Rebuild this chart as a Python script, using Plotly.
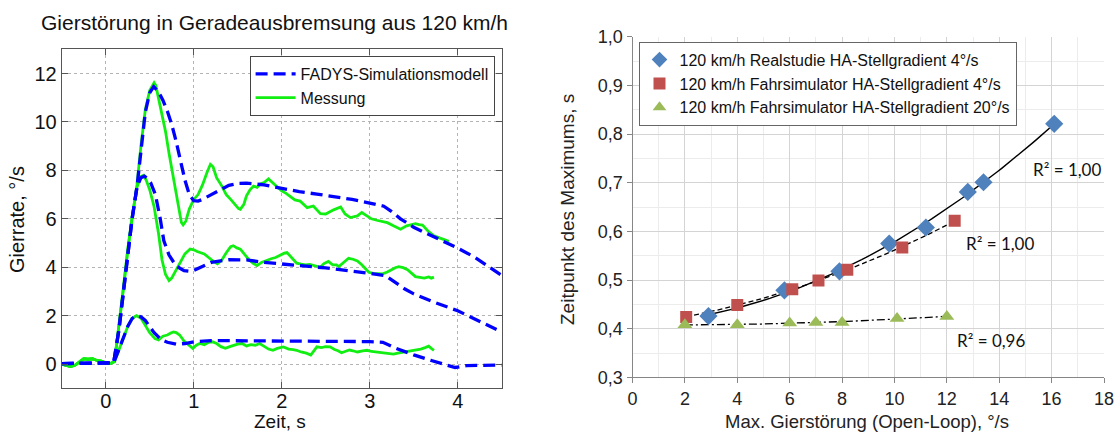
import numpy as np
import plotly.graph_objects as go

# ---------------- Left chart data ----------------
pre_t = [-0.5, -0.45, -0.4, -0.35, -0.3, -0.25, -0.2, -0.15, -0.1, -0.05, 0.0, 0.05, 0.1]
pre_y = [0.0, -0.05, -0.1, -0.05, 0.1, 0.22, 0.2, 0.22, 0.15, 0.12, 0.05, 0.02, 0.1]

sim_big_t = [-0.5, 0.0, 0.09, 0.15, 0.2, 0.25, 0.3, 0.355, 0.4, 0.45, 0.5, 0.545, 0.6, 0.65, 0.7,
             0.75, 0.8, 0.85, 0.9, 0.95, 1.0, 1.05, 1.1, 1.2, 1.3, 1.4, 1.5, 1.6, 1.8, 2.0, 2.2,
             2.4, 2.6, 2.8, 3.0, 3.1, 3.16, 3.25, 3.35, 3.5, 3.7, 4.0, 4.2, 4.5]
sim_big_y = [0.02, 0.02, 0.05, 1.4, 3.0, 4.6, 6.0, 7.3, 8.9, 10.4, 11.2, 11.46, 11.25, 10.9, 10.45,
             9.9, 9.2, 8.4, 7.6, 7.0, 6.75, 6.73, 6.8, 7.0, 7.2, 7.38, 7.46, 7.47, 7.4, 7.25, 7.12,
             7.02, 6.92, 6.8, 6.65, 6.58, 6.52, 6.3, 6.0, 5.65, 5.3, 4.79, 4.4, 3.66]

sim_mid_t = [-0.5, 0.0, 0.09, 0.15, 0.2, 0.25, 0.3, 0.355, 0.4, 0.44, 0.48, 0.51, 0.565, 0.62, 0.66,
             0.72, 0.8, 0.89, 0.96, 1.0, 1.1, 1.2, 1.4, 1.6, 1.8, 2.0, 2.2, 2.5, 2.8, 3.0, 3.18,
             3.3, 3.4, 3.5, 3.7, 4.0, 4.2, 4.5]
sim_mid_y = [0.02, 0.02, 0.05, 1.4, 3.0, 4.6, 6.0, 7.3, 7.7, 7.76, 7.65, 7.5, 7.0, 6.0, 5.1,
             4.5, 4.05, 3.86, 3.83, 3.87, 4.05, 4.2, 4.31, 4.3, 4.2, 4.12, 4.07, 3.97, 3.85, 3.75, 3.65,
             3.35, 3.1, 2.9, 2.6, 2.2, 1.85, 1.33]

sim_small_t = [-0.5, 0.0, 0.09, 0.15, 0.2, 0.25, 0.3, 0.35, 0.4, 0.45, 0.5, 0.55, 0.6, 0.65, 0.7,
               0.8, 0.9, 1.0, 1.2, 1.5, 2.0, 2.5, 3.0, 3.15, 3.3, 3.5, 3.7, 3.9, 3.97, 4.1, 4.5]
sim_small_y = [0.02, 0.02, 0.05, 0.6, 1.1, 1.55, 1.88, 2.0, 1.95, 1.8, 1.55, 1.3, 1.12, 0.98, 0.9,
               0.82, 0.85, 0.92, 0.97, 0.97, 0.95, 0.94, 0.93, 0.9, 0.65, 0.38, 0.15, -0.08, -0.14, -0.06, -0.04]

mes_big_t = [0.15, 0.2, 0.25, 0.3, 0.355, 0.4, 0.45, 0.5, 0.55, 0.57, 0.6, 0.64, 0.68, 0.72, 0.77,
             0.82, 0.86, 0.88, 0.91, 0.95, 1.0, 1.05, 1.1, 1.15, 1.19, 1.22, 1.26, 1.32, 1.37, 1.42,
             1.47, 1.51, 1.53, 1.57, 1.6, 1.64, 1.68, 1.72, 1.76, 1.8, 1.85, 1.88, 1.92, 1.96, 2.0,
             2.05, 2.1, 2.15, 2.21, 2.25, 2.29, 2.36, 2.4, 2.44, 2.5, 2.55, 2.59, 2.67, 2.72, 2.78,
             2.82, 2.86, 2.91, 2.97, 3.02, 3.08, 3.14, 3.2, 3.27, 3.31, 3.35, 3.42, 3.47, 3.52,
             3.56, 3.6, 3.67, 3.73, 3.8, 3.85, 3.9]
mes_big_y = [1.5, 3.1, 4.7, 6.1, 7.4, 9.0, 10.5, 11.3, 11.62, 11.5, 11.0, 10.3, 9.6, 8.7, 7.7,
             6.6, 5.85, 5.75, 5.9, 6.4, 6.8, 7.0, 7.4, 7.9, 8.25, 8.15, 7.7, 7.35, 7.0, 6.8,
             6.6, 6.42, 6.39, 6.6, 6.95, 7.2, 7.35, 7.3, 7.45, 7.5, 7.65, 7.55, 7.4, 7.3, 7.15,
             7.05, 6.9, 6.78, 6.73, 6.6, 6.46, 6.53, 6.35, 6.21, 6.2, 6.3, 6.37, 6.49, 6.2, 6.05,
             6.1, 6.12, 6.26, 6.1, 6.0, 5.94, 5.9, 5.84, 5.71, 5.65, 5.57, 5.71, 5.75, 5.8,
             5.76, 5.74, 5.47, 5.3, 5.2, 5.15, 5.07]

mes_mid_t = [0.15, 0.2, 0.25, 0.3, 0.355, 0.4, 0.43, 0.46, 0.5, 0.55, 0.6, 0.64, 0.68, 0.72, 0.75,
             0.8, 0.85, 0.9, 0.96, 1.0, 1.04, 1.07, 1.12, 1.17, 1.22, 1.27, 1.32, 1.37, 1.42, 1.45,
             1.49, 1.53, 1.58, 1.63, 1.68, 1.72, 1.77, 1.83, 1.88, 1.93, 1.98, 2.03, 2.06, 2.1,
             2.14, 2.17, 2.22, 2.27, 2.32, 2.36, 2.4, 2.44, 2.48, 2.53, 2.58, 2.62, 2.65, 2.7,
             2.76, 2.81, 2.86, 2.91, 2.95, 2.99, 3.04, 3.09, 3.14, 3.2, 3.25, 3.29, 3.33, 3.38,
             3.43, 3.48, 3.52, 3.57, 3.62, 3.67, 3.7, 3.73]
mes_mid_y = [1.5, 3.1, 4.7, 6.1, 7.3, 7.75, 7.8, 7.6, 7.2, 6.5, 5.4, 4.3, 3.7, 3.45, 3.55,
             3.9, 4.25, 4.55, 4.75, 4.72, 4.65, 4.6, 4.55, 4.4, 4.25, 4.14, 4.3, 4.6, 4.85, 4.89,
             4.8, 4.75, 4.5, 4.3, 4.15, 4.07, 4.2, 4.3, 4.35, 4.4, 4.5, 4.58, 4.61, 4.45,
             4.25, 4.17, 4.13, 4.1, 4.12, 4.07, 4.05, 4.0, 4.15, 4.24, 4.1, 4.1, 4.03, 4.2,
             4.37, 4.33, 4.26, 4.1, 3.95, 3.79, 3.75, 3.74, 3.72, 3.8, 3.9, 3.98, 4.02, 3.98,
             3.9, 3.72, 3.61, 3.58, 3.55, 3.6, 3.55, 3.59]

mes_small_t = [0.15, 0.2, 0.25, 0.3, 0.35, 0.4, 0.45, 0.5, 0.56, 0.6, 0.65, 0.7, 0.74, 0.77, 0.8,
               0.84, 0.89, 0.94, 0.99, 1.03, 1.07, 1.12, 1.17, 1.21, 1.26, 1.31, 1.36, 1.41, 1.46,
               1.5, 1.55, 1.6, 1.65, 1.7, 1.75, 1.8, 1.85, 1.9, 1.95, 2.02, 2.08, 2.13, 2.17, 2.22,
               2.28, 2.33, 2.37, 2.4, 2.45, 2.5, 2.55, 2.6, 2.64, 2.68, 2.72, 2.77, 2.81, 2.86,
               2.92, 2.97, 3.02, 3.07, 3.12, 3.17, 3.22, 3.27, 3.32, 3.37, 3.42, 3.47, 3.53, 3.58,
               3.63, 3.67, 3.7, 3.73]
mes_small_y = [0.6, 1.1, 1.55, 1.88, 2.0, 1.9, 1.6, 1.3, 1.05, 1.0, 1.15, 1.2, 1.28, 1.33, 1.3,
               1.2, 0.95, 0.78, 0.65, 0.78, 0.85, 0.8, 0.9, 0.92, 0.85, 0.72, 0.65, 0.72, 0.78,
               0.82, 0.85, 0.75, 0.8, 0.78, 0.85, 0.72, 0.62, 0.57, 0.65, 0.71, 0.62, 0.6, 0.57, 0.5,
               0.45, 0.37, 0.55, 0.71, 0.68, 0.72, 0.71, 0.6, 0.55, 0.47, 0.52, 0.58, 0.55, 0.5,
               0.55, 0.57, 0.52, 0.5, 0.47, 0.45, 0.43, 0.41, 0.45, 0.48, 0.51, 0.55, 0.57, 0.62,
               0.68, 0.74, 0.65, 0.57]

left_xticks = [0, 1, 2, 3, 4]
left_yticks = [0, 2, 4, 6, 8, 10, 12]

# ---------------- Right chart data ----------------
real_x = [2.9, 5.8, 7.9, 9.8, 11.2, 12.8, 13.4, 16.1]
real_y = [0.426, 0.479, 0.518, 0.575, 0.608, 0.681, 0.701, 0.821]
fs4_x = [2.05, 4.0, 6.1, 7.1, 8.2, 10.3, 12.3]
fs4_y = [0.424, 0.449, 0.481, 0.499, 0.521, 0.567, 0.622]
fs20_x = [2.0, 4.0, 6.0, 7.0, 8.0, 10.1, 12.0]
fs20_y = [0.408, 0.408, 0.412, 0.413, 0.413, 0.421, 0.425]

names_right = ["120 km/h Realstudie HA-Stellgradient 4°/s",
               "120 km/h Fahrsimulator HA-Stellgradient 4°/s",
               "120 km/h Fahrsimulator HA-Stellgradient 20°/s"]
r2_labels = ["R² = 1,00", "R² = 1,00", "R² = 0,96"]

FONT = "Liberation Sans, Arial, sans-serif"
BLUE = "#0000ff"
GREEN = "#11ee11"

fig = go.Figure()

# measurements first (below), then simulation
for mt, my, show in [(mes_big_t, mes_big_y, True), (mes_mid_t, mes_mid_y, False), (mes_small_t, mes_small_y, False)]:
    fig.add_trace(go.Scatter(x=pre_t + mt, y=pre_y + my, mode="lines", name="Messung",
                             line=dict(color=GREEN, width=2.8),
                             showlegend=show, legend="legend", xaxis="x", yaxis="y",
                             legendrank=2))
for st, sy, show in [(sim_big_t, sim_big_y, True), (sim_mid_t, sim_mid_y, False), (sim_small_t, sim_small_y, False)]:
    fig.add_trace(go.Scatter(x=st, y=sy, mode="lines", name="FADYS-Simulationsmodell",
                             line=dict(color=BLUE, width=3.3, dash="12px,6px"),
                             showlegend=show, legend="legend", xaxis="x", yaxis="y",
                             legendrank=1))

# right chart trendlines (least-squares polynomials of the plotted points)
def trend(xs, ys, deg=2):
    c = np.polyfit(xs, ys, deg)
    xx = np.linspace(min(xs), max(xs), 80)
    return xx, np.polyval(c, xx)

tx, ty = trend(real_x, real_y)
fig.add_trace(go.Scatter(x=tx, y=ty, mode="lines", line=dict(color="black", width=1.4),
                         showlegend=False, xaxis="x2", yaxis="y2"))
tx, ty = trend(fs4_x, fs4_y)
fig.add_trace(go.Scatter(x=tx, y=ty, mode="lines", line=dict(color="black", width=1.3, dash="5px,3px"),
                         showlegend=False, xaxis="x2", yaxis="y2"))
tx, ty = trend(fs20_x, fs20_y)
fig.add_trace(go.Scatter(x=tx, y=ty, mode="lines", line=dict(color="black", width=1.3, dash="8px,3px,2px,3px"),
                         showlegend=False, xaxis="x2", yaxis="y2"))

fig.add_trace(go.Scatter(x=real_x, y=real_y, mode="markers", name=names_right[0],
                         marker=dict(symbol="diamond", color="#4f81bd", size=14),
                         legend="legend2", xaxis="x2", yaxis="y2"))
fig.add_trace(go.Scatter(x=fs4_x, y=fs4_y, mode="markers", name=names_right[1],
                         marker=dict(symbol="square", color="#c0504d", size=12),
                         legend="legend2", xaxis="x2", yaxis="y2"))
fig.add_trace(go.Scatter(x=fs20_x, y=fs20_y, mode="markers", name=names_right[2],
                         marker=dict(symbol="triangle-up", color="#9bbb59", size=13),
                         legend="legend2", xaxis="x2", yaxis="y2"))

W, H = 1115, 435
def px_x(p): return p / W
def px_y(p): return 1 - p / H

fig.update_layout(
    width=W, height=H, margin=dict(l=0, r=0, t=0, b=0, autoexpand=False),
    paper_bgcolor="white", plot_bgcolor="white",
    font=dict(family=FONT, color="#111"),
    separators=",.",
    xaxis=dict(domain=[px_x(61.7), px_x(501.7)], range=[-0.5, 4.5], tickvals=left_xticks,
               showgrid=True, gridcolor="#b4b4b4", griddash="dot", gridwidth=1,
               zeroline=False, showline=True, linecolor="#555", linewidth=1, mirror="ticks",
               ticks="inside", ticklen=6, tickcolor="#555", automargin=False,
               ticklabelstandoff=-5,
               tickfont=dict(size=20, family=FONT, color="#111"), anchor="y"),
    yaxis=dict(domain=[px_y(388.3), px_y(49.3)], range=[-1, 13], tickvals=left_yticks,
               showgrid=True, gridcolor="#b4b4b4", griddash="dot", gridwidth=1,
               zeroline=False, showline=True, linecolor="#555", linewidth=1, mirror="ticks",
               ticks="inside", ticklen=6, tickcolor="#555", automargin=False,
               tickfont=dict(size=20, family=FONT, color="#111"), anchor="x"),
    xaxis2=dict(domain=[px_x(632.5), px_x(1104)], range=[0, 18], dtick=2, tick0=0,
                showgrid=True, gridcolor="#d4d4d4", gridwidth=1,
                minor=dict(dtick=1, showgrid=True, gridcolor="#ececec", gridwidth=1),
                zeroline=False, showline=True, linecolor="#868686", linewidth=1,
                ticks="outside", ticklen=5, tickcolor="#868686", automargin=False,
                ticklabeloverflow="allow",
                tickfont=dict(size=18, family=FONT, color="#222"), anchor="y2"),
    yaxis2=dict(domain=[px_y(377.4), px_y(36.7)], range=[0.3, 1.0], dtick=0.1, tick0=0,
                tickformat=".1f",
                showgrid=True, gridcolor="#d4d4d4", gridwidth=1,
                minor=dict(dtick=0.05, showgrid=True, gridcolor="#ececec", gridwidth=1),
                zeroline=False, showline=True, linecolor="#868686", linewidth=1,
                ticks="outside", ticklen=5, tickcolor="#868686", automargin=False,
                ticklabeloverflow="allow",
                tickfont=dict(size=18, family=FONT, color="#222"), anchor="x2"),
    legend=dict(x=px_x(494.6), xanchor="right", y=px_y(56), yanchor="top",
                bgcolor="white", bordercolor="#444", borderwidth=1,
                font=dict(size=16, family=FONT, color="#111"),
                tracegroupgap=0, itemwidth=40),
    legend2=dict(x=px_x(638.5), xanchor="left", y=px_y(41.7), yanchor="top",
                 bgcolor="white", bordercolor="#666", borderwidth=1,
                 font=dict(size=16, family=FONT, color="#111"),
                 tracegroupgap=0, itemwidth=30, itemsizing="constant"),
)

annos = [
    dict(text="Gierstörung in Geradeausbremsung aus 120 km/h", x=px_x(274), y=px_y(23),
         yanchor="middle", font=dict(size=21, family=FONT, color="#111")),
    dict(text="Zeit, s", x=px_x(280), y=0.002, yanchor="bottom",
         font=dict(size=19, family=FONT, color="#111")),
    dict(text="Gierrate, °/s", x=px_x(17), y=px_y(220), textangle=-90, yanchor="middle",
         font=dict(size=20, family=FONT, color="#111")),
    dict(text="Max. Gierstörung (Open-Loop), °/s", x=px_x(867), y=0.002, yanchor="bottom",
         font=dict(size=18.5, family=FONT, color="#222")),
    dict(text="Zeitpunkt des Maximums, s", x=px_x(567), y=px_y(210), textangle=-90,
         yanchor="middle", font=dict(size=19, family=FONT, color="#222")),
]
for a in annos:
    a.update(xref="paper", yref="paper", showarrow=False, xanchor="center")
    fig.add_annotation(**a)

r2_pos = [(15.2, 0.728), (12.65, 0.575), (12.3, 0.375)]
for lbl, (xx, yy) in zip(r2_labels, r2_pos):
    fig.add_annotation(text=lbl, x=xx, y=yy, xref="x2", yref="y2", showarrow=False,
                       xanchor="left", yanchor="middle",
                       font=dict(size=17, family="Lato, Open Sans, sans-serif", color="#111"))

fig.write_html("out.html")
